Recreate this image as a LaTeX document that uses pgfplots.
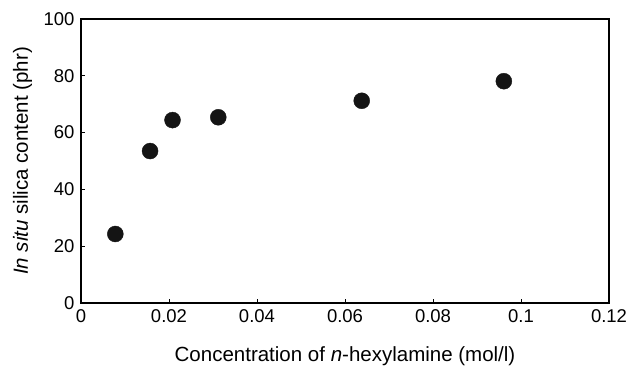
\documentclass[border=0pt]{standalone}
\usepackage{pgfplots}
\pgfplotsset{compat=1.18}
\usepackage{fontspec}
\setmainfont{Liberation Sans}
\begin{document}
\begin{tikzpicture}
\begin{axis}[
  scale only axis,
  width=528pt, height=284pt,
  xmin=0, xmax=0.12, ymin=0, ymax=100,
  xtick={0,0.02,0.04,0.06,0.08,0.1,0.12},
  xticklabels={0,0.02,0.04,0.06,0.08,0.1,0.12},
  ytick={0,20,40,60,80,100},
  tick align=inside,
  xtick pos=left, ytick pos=left,
  major tick length=4pt,
  axis line style={line width=1.3pt},
  tick style={line width=0.8pt, black},
  every tick label/.append style={font=\fontsize{18.5}{20}\selectfont},
  /pgf/number format/assume math mode=true,
  xticklabel style={yshift=-3.5pt},
  yticklabel style={xshift=-3pt},
  xlabel={Concentration of \textit{n}-hexylamine (mol/l)},
  ylabel={\textit{In situ} silica content (phr)},
  label style={font=\fontsize{20.5}{22}\selectfont},
  xlabel style={at={(axis description cs:0.5,-0.2077)}, anchor=base},
  ylabel style={at={(axis description cs:-0.1004,0.5)}, anchor=base},
]
\addplot[only marks, mark=*, mark size=8pt, fill=black!92, draw=black!92] coordinates {
  (0.0078,24.3) (0.0157,53.5) (0.0208,64.4) (0.0312,65.4) (0.0638,71.2) (0.0961,78.1)
};
\coordinate (sw) at (rel axis cs:0,0);
\coordinate (ne) at (rel axis cs:1,1);
\end{axis}
\pgfresetboundingbox
\path ([shift={(-81pt,-63pt)}]sw) rectangle ([shift={(19pt,19pt)}]ne);
\end{tikzpicture}
\end{document}
